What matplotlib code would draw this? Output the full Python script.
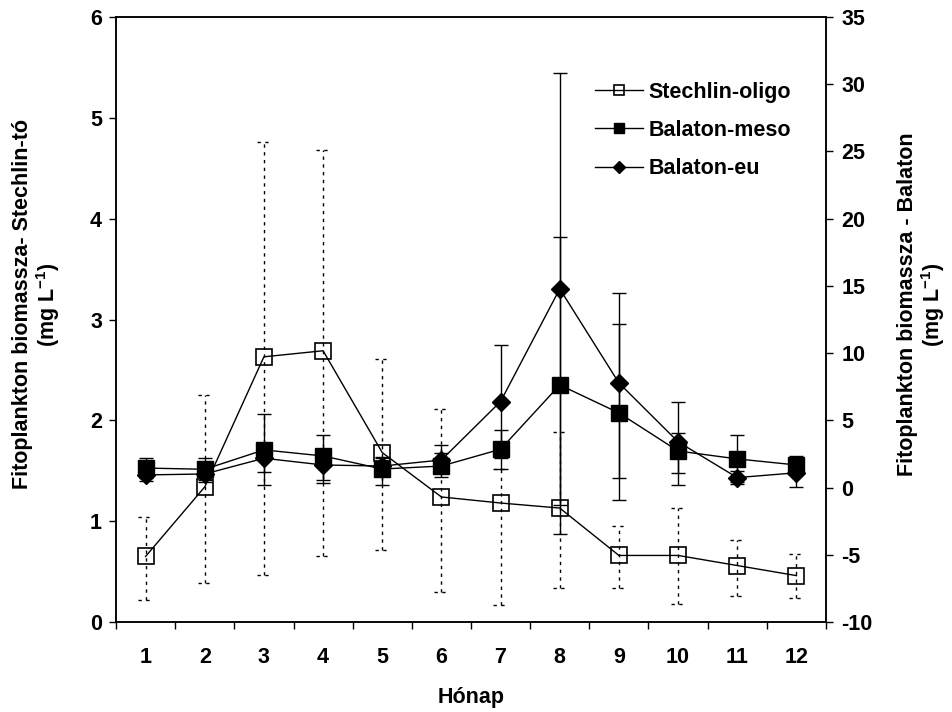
import numpy as np
import matplotlib.pyplot as plt

plt.rcParams['font.family'] = ['Liberation Sans', 'DejaVu Sans']
plt.rcParams['font.weight'] = 'bold'
plt.rcParams['mathtext.fontset'] = 'custom'
plt.rcParams['mathtext.rm'] = 'Liberation Sans:bold'
plt.rcParams['mathtext.bf'] = 'Liberation Sans:bold'
plt.rcParams['mathtext.default'] = 'bf'
plt.rcParams['axes.unicode_minus'] = False

# hónapok
months = np.arange(1, 13)

# Stechlin-tó (bal tengely), átlag és a hibasáv alsó/felső vége
stechlin = np.array([0.65, 1.34, 2.63, 2.69, 1.68, 1.24, 1.18, 1.13, 0.66, 0.66, 0.56, 0.46])
stechlin_hi = np.array([1.04, 2.25, 4.76, 4.68, 2.61, 2.11, 1.52, 1.88, 0.95, 1.13, 0.81, 0.67])
stechlin_lo = np.array([0.22, 0.39, 0.47, 0.65, 0.71, 0.30, 0.17, 0.34, 0.34, 0.18, 0.26, 0.24])

# Balaton (jobb tengely)
meso = np.array([1.45, 1.36, 2.80, 2.35, 1.38, 1.60, 2.85, 7.63, 5.55, 2.72, 2.13, 1.68])
meso_hi = np.array([2.20, 2.20, 5.50, 3.90, 2.25, 3.20, 4.29, 18.6, 12.15, 4.04, 3.90, 2.35])
meso_lo = np.array([0.70, 0.57, 0.17, 0.32, 0.17, 0.77, 1.38, -3.45, -0.92, 1.10, 0.40, 1.00])

eu = np.array([0.94, 1.01, 2.18, 1.68, 1.60, 2.05, 6.40, 14.78, 7.78, 3.40, 0.74, 1.10])
eu_hi = np.array([1.50, 1.60, 3.20, 2.80, 2.20, 2.60, 10.6, 30.8, 14.45, 6.35, 1.20, 2.10])
eu_lo = np.array([0.50, 0.45, 1.14, 0.57, 1.00, 1.50, 2.20, -1.30, 0.73, 0.17, 0.30, 0.07])

left_ticks = [0, 1, 2, 3, 4, 5, 6]
right_ticks = [-10, -5, 0, 5, 10, 15, 20, 25, 30, 35]

fs = 15.5

fig = plt.figure(figsize=(9.52, 7.12), dpi=100)
ax = fig.add_axes([116 / 952, 1 - 622 / 712, 710 / 952, 605 / 712])
ax2 = ax.twinx()

dots = (0, (2.4, 3.2))

# Stechlin - pontozott hibasávok
eb = ax.errorbar(months, stechlin, yerr=[stechlin - stechlin_lo, stechlin_hi - stechlin],
                 fmt='none', ecolor='black', elinewidth=1.0, capsize=0)
eb[2][0].set_linestyle(dots)
ax.hlines(stechlin_hi, months - 0.12, months + 0.12, colors='black', linewidth=1.0, linestyles=dots)
ax.hlines(stechlin_lo, months - 0.12, months + 0.12, colors='black', linewidth=1.0, linestyles=dots)
l1, = ax.plot(months, stechlin, color='black', lw=1.0, marker='s', ms=11,
              mfc='none', mec='black', mew=1.2, label='Stechlin-oligo')

# Balaton
ax2.errorbar(months, meso, yerr=[meso - meso_lo, meso_hi - meso], fmt='none',
             ecolor='black', elinewidth=1.0, capsize=5, capthick=1.0)
ax2.errorbar(months, eu, yerr=[eu - eu_lo, eu_hi - eu], fmt='none',
             ecolor='black', elinewidth=1.0, capsize=5, capthick=1.0)
l2, = ax2.plot(months, meso, color='black', lw=1.0, marker='s', ms=11,
               mfc='black', mec='black', label='Balaton-meso')
l3, = ax2.plot(months, eu, color='black', lw=1.0, marker='D', ms=9.5,
               mfc='black', mec='black', label='Balaton-eu')

ax.set_xlim(0.5, 12.5)
ax.set_ylim(0, 6)
ax2.set_ylim(-10, 35)

ax.set_xticks(months)
ax.set_xticks(np.arange(0.5, 13, 1), minor=True)
ax.tick_params(axis='x', which='major', length=0, pad=18, labelsize=fs)
ax.tick_params(axis='x', which='minor', length=5, width=1.0, direction='out')
ax.set_yticks(left_ticks)
ax.tick_params(axis='y', length=5, width=1.0, direction='out', pad=5, labelsize=fs)
ax2.set_yticks(right_ticks)
ax2.tick_params(axis='y', length=5, width=1.0, direction='out', pad=6, labelsize=fs)

for a in (ax, ax2):
    for s in a.spines.values():
        s.set_linewidth(1.1)

ax.set_xlabel('Hónap', fontsize=fs, fontweight='bold', labelpad=14)
ax.set_ylabel('Fitoplankton biomassza- Stechlin-tó\n(mg L$^{-1}$)', fontsize=fs,
              fontweight='bold', linespacing=1.05)
ax.yaxis.set_label_coords(-0.076, 0.525)
ax2.set_ylabel('Fitoplankton biomassza - Balaton\n(mg L$^{-1}$)', fontsize=fs,
               fontweight='bold', rotation=90, linespacing=1.05)
ax2.yaxis.set_label_coords(1.1, 0.525)

ax2.legend(handles=[l1, l2, l3], loc='upper left', bbox_to_anchor=(0.648, 0.925),
           frameon=False, fontsize=fs, markerscale=0.6, handlelength=2.2,
           handletextpad=0.25, labelspacing=0.8)

fig.savefig('out.png', dpi=100)
